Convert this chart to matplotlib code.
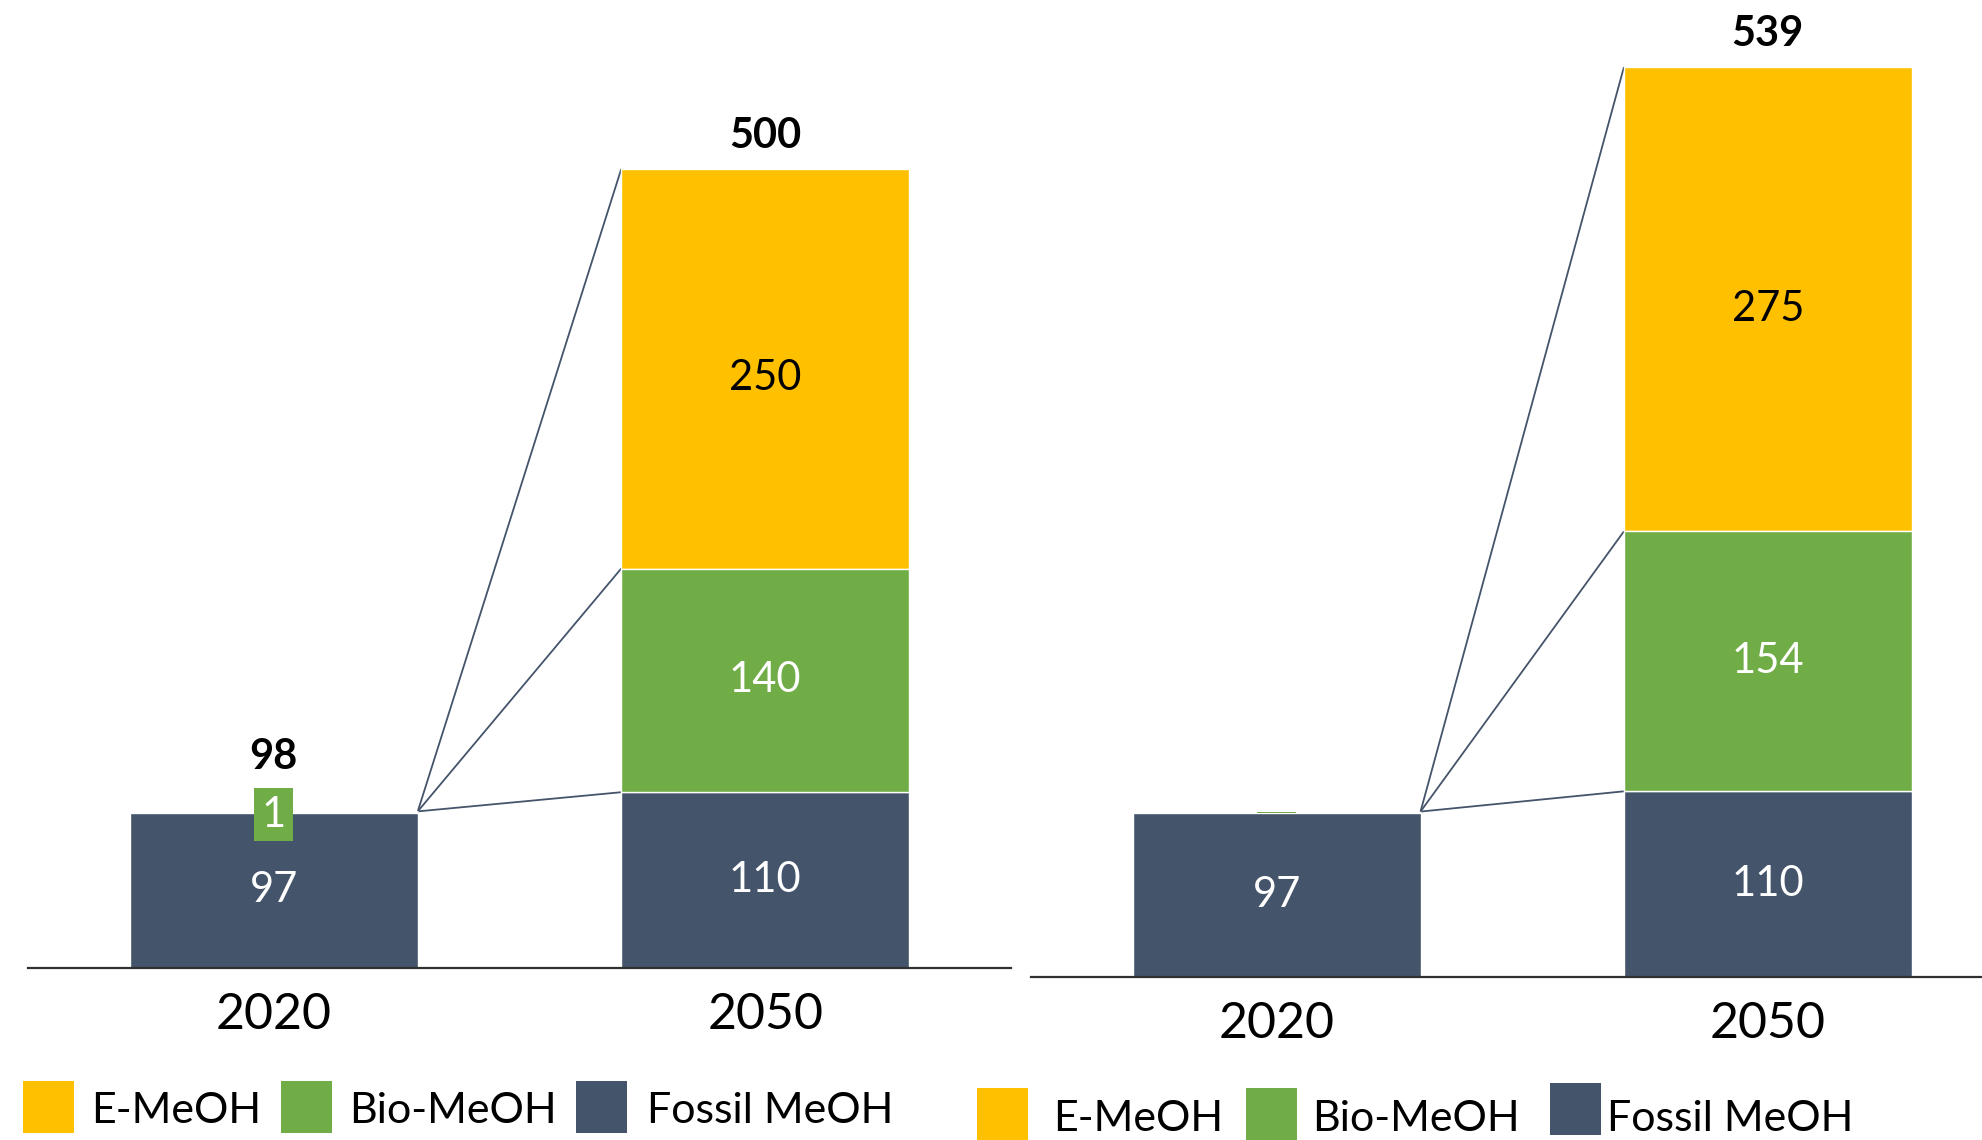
"""Methanol production 2020 vs 2050, two scenarios side by side."""

import matplotlib

matplotlib.use("Agg")

import matplotlib.pyplot as plt
from matplotlib.patches import Rectangle

plt.rcParams["font.family"] = ["Lato", "DejaVu Sans"]

# Data
years = ["2020", "2050"]
series = ["E-MeOH", "Bio-MeOH", "Fossil MeOH"]

left_fossil = [97, 110]
left_bio = [1, 140]
left_emeoh = [0, 250]

right_fossil = [97, 110]
right_bio = [1, 154]
right_emeoh = [0, 275]

COLORS = {
    "E-MeOH": "#FFC000",
    "Bio-MeOH": "#70AD47",
    "Fossil MeOH": "#44546A",
}
LINE_COLOR = "#44546A"

W, H = 1982, 1140
fig = plt.figure(figsize=(W / 100, H / 100), dpi=100)


def fx(x):
    return x / W


def fy(y):
    return 1 - y / H


def draw_panel(rect, xlim, ymax, fossil, bio, emeoh, show_small_label):
    ax = fig.add_axes(rect)
    x = list(range(len(years)))
    width = 0.586
    ax.bar(x, fossil, width, color=COLORS["Fossil MeOH"], edgecolor="white", linewidth=1, zorder=2)
    # the tiny 2020 bio slice is drawn as a narrow sliver
    bio_widths = [0.078 if v < 5 else width for v in bio]
    bio_lw = [0 if v < 5 else 1 for v in bio]
    ax.bar(x, bio, bio_widths, bottom=fossil, color=COLORS["Bio-MeOH"],
           edgecolor="white", linewidth=bio_lw, zorder=3)
    bottoms2 = [f + b for f, b in zip(fossil, bio)]
    ax.bar(x, emeoh, width, bottom=bottoms2, color=COLORS["E-MeOH"],
           edgecolor="white", linewidth=1, zorder=2)

    totals = [f + b + e for f, b, e in zip(fossil, bio, emeoh)]

    # segment labels
    for i in x:
        ax.text(i, fossil[i] / 2, str(fossil[i]), ha="center", va="center",
                color="white", fontsize=30, zorder=4)
        if bio[i] >= 5:
            ax.text(i, fossil[i] + bio[i] / 2, str(bio[i]), ha="center", va="center",
                    color="white", fontsize=30, zorder=4)
        elif show_small_label:
            ax.text(i, fossil[i] + bio[i] / 2 - 1.5, str(bio[i]), ha="center", va="center",
                    color="white", fontsize=30, zorder=4,
                    bbox=dict(boxstyle="square,pad=0.18", facecolor=COLORS["Bio-MeOH"],
                              edgecolor="none"))
        if emeoh[i] > 0:
            ax.annotate(str(emeoh[i]), (i, bottoms2[i] + emeoh[i] / 2),
                        textcoords="offset points", xytext=(0, -7),
                        ha="center", va="center", color="black", fontsize=30, zorder=4)

    # totals above bars
    for i in x:
        if i == 0 and not show_small_label:
            continue
        offset = 39 if (i == 0) else 24
        ax.annotate(str(totals[i]), (i, totals[i]), textcoords="offset points",
                    xytext=(0, offset), ha="center", va="center",
                    fontsize=30, fontweight="bold", color="black")

    # connector lines from the 2020 bar to the 2050 segment boundaries
    x0 = x[0] + width / 2
    x1 = x[1] - width / 2
    levels = [fossil[1], fossil[1] + bio[1], totals[1]]
    for lvl in levels:
        ax.plot([x0, x1], [totals[0], lvl], color=LINE_COLOR, lw=1.3, zorder=1,
                solid_capstyle="butt")

    ax.set_xlim(*xlim)
    ax.set_ylim(0, ymax)
    ax.set_xticks(x)
    ax.set_xticklabels(years, fontsize=36)
    ax.tick_params(axis="x", length=0, pad=17)
    ax.set_yticks([])
    for side in ["top", "left", "right"]:
        ax.spines[side].set_visible(False)
    ax.spines["bottom"].set_color("#303030")
    ax.spines["bottom"].set_linewidth(1.6)
    ax.patch.set_alpha(0)
    return ax


# left panel: axis line at y=968px, 1.598 px per unit
draw_panel([fx(28), fy(968), (1011 - 28) / W, 968 / H], (-0.5, 1.5), 968 / 1.598,
           left_fossil, left_bio, left_emeoh, True)
# right panel: axis line at y=977px, 1.688 px per unit
draw_panel([fx(1031), fy(977), (1982 - 1031) / W, 977 / H], (-0.5, 1.436), 977 / 1.688,
           right_fossil, right_bio, right_emeoh, False)


def draw_legend(patch_x, text_x, patch_top, text_y):
    for name, px, tx, pt in zip(series, patch_x, text_x, patch_top):
        fig.add_artist(Rectangle((fx(px), fy(pt + 52)), 51 / W, 52 / H,
                                 transform=fig.transFigure, facecolor=COLORS[name],
                                 edgecolor="none"))
        fig.text(fx(tx), fy(text_y), name, ha="left", va="center", fontsize=31)


draw_legend([23, 281, 576], [91, 349, 647], [1081, 1081, 1081], 1111)
draw_legend([977, 1246, 1550], [1053, 1312, 1607], [1088, 1088, 1083], 1119)

fig.savefig("out.png", dpi=100)
